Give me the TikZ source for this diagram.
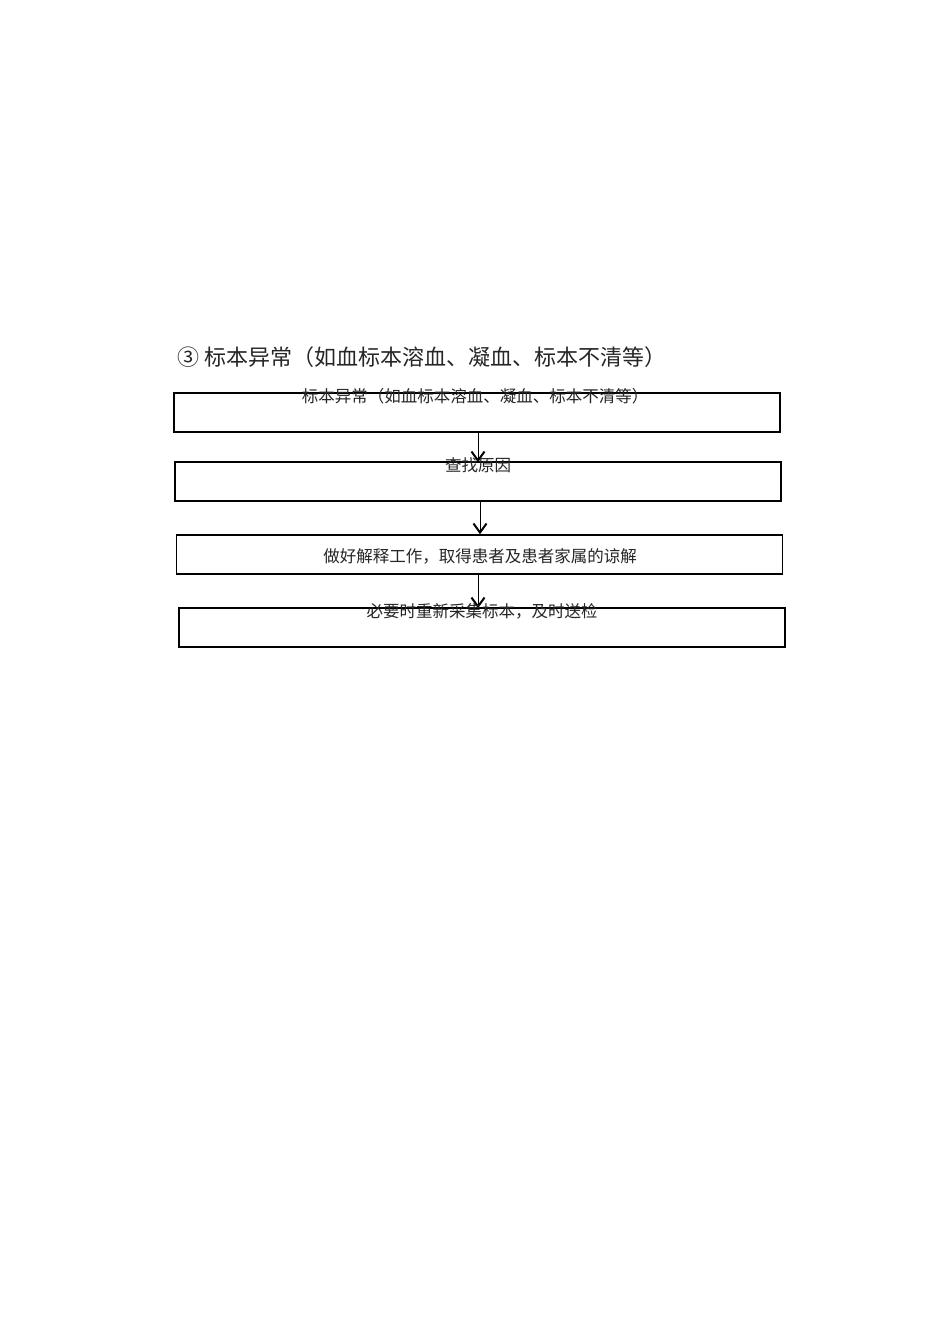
\documentclass[tikz,border=0pt]{standalone}
\usepackage{fontspec}
\newfontfamily\cjk{Noto Sans CJK SC}
\usetikzlibrary{arrows.meta}
\begin{document}
\begin{tikzpicture}[x=1pt,y=-1pt,
  box/.style={draw=black,line width=1.5pt,minimum width=606pt,minimum height=39pt,inner sep=0pt,fill=none},
  lbl/.style={font=\cjk\fontsize{16.5}{19}\selectfont,inner sep=0pt,text=black!85},
  arr/.style={draw=black,line width=0.8pt,-{Straight Barb[length=9pt,width=13pt,line width=2pt]}}]
\useasboundingbox[fill=white] (0,0) rectangle (950,1344);
\node[anchor=west,font=\cjk\fontsize{22}{26}\selectfont,inner sep=0pt,text=black!85] (title) at (177,357) {③ 标本异常（如血标本溶血、凝血、标本不清等）};
\node[box] (b1) at (477,412.5) {};
\node[box] (b2) at (478,481.5) {};
\node[box] (b3) at (479.5,554.5) {};
\node[box] (b4) at (482,627.5) {};
\draw[arr] ([xshift=1pt]b1.south) -- ([xshift=0pt,yshift=-1pt]b2.north);
\draw[arr] ([xshift=2pt]b2.south) -- ([xshift=0.5pt]b3.north);
\draw[arr] ([xshift=-1.5pt]b3.south) -- ([xshift=-4pt,yshift=-1pt]b4.north);
\node[lbl] (t1) at (475,396) {标本异常（如血标本溶血、凝血、标本不清等）};
\node[lbl] (t2) at (478,465) {查找原因};
\node[lbl] (t3) at (480,556) {做好解释工作，取得患者及患者家属的谅解};
\node[lbl] (t4) at (482,611) {必要时重新采集标本，及时送检};
\end{tikzpicture}
\end{document}
